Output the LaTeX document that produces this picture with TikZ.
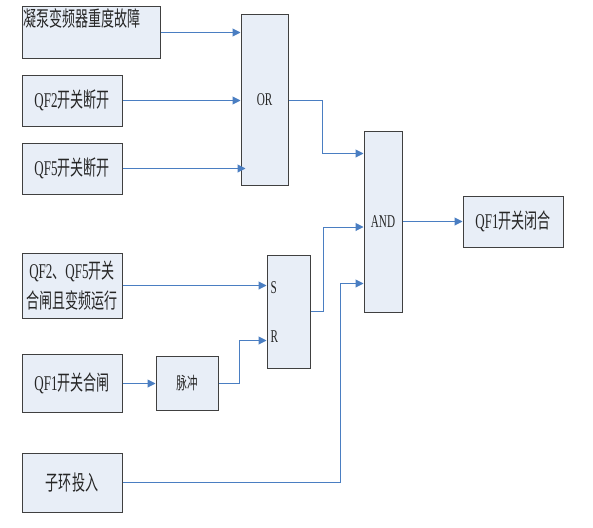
\documentclass[tikz,border=0pt]{standalone}
\usepackage{fontspec}
\setmainfont{Liberation Serif}[FakeStretch=0.62]
\newfontfamily\cjk{Noto Sans CJK SC}[FakeStretch=0.62]
\usetikzlibrary{arrows.meta}

\definecolor{boxfill}{HTML}{E8EEF7}
\definecolor{boxline}{HTML}{404040}
\definecolor{linkblue}{HTML}{4A7EC2}
\definecolor{inkgray}{HTML}{262626}

\tikzset{
   box/.style={
      draw=boxline,
      fill=boxfill,
      line width=1pt,
      inner sep=0pt,
      align=center,
      text=inkgray,
      font=\fontsize{21pt}{30pt}\selectfont
   },
   gate/.style={
      box,
      font=\fontsize{18pt}{20pt}\selectfont
   },
   pinlabel/.style={
      anchor=west,
      inner sep=0pt,
      text=inkgray,
      font=\fontsize{18pt}{20pt}\selectfont
   },
   link/.style={
      draw=linkblue,
      line width=1pt,
      -{Triangle[length=8pt,width=8pt]}
   }
}

\begin{document}
\begin{tikzpicture}[x=1pt, y=-1pt]
   \useasboundingbox (0,0) rectangle (593,527);

   % inputs of the OR gate
   \node[
      box,
      minimum width=138pt,
      minimum height=51pt,
      label={[anchor=north west, inner sep=2pt, text=inkgray, font=\fontsize{21pt}{23pt}\selectfont]north west:{\cjk 凝泵变频器重度故障}}
   ] (fault) at (91,32.5) {};
   \node[box, minimum width=100pt, minimum height=51pt] (qf2) at (72,100.5) {QF2{\cjk 开关断开}};
   \node[box, minimum width=100pt, minimum height=51pt] (qf5) at (72,168.5) {QF5{\cjk 开关断开}};

   % gates
   \node[gate, minimum width=47pt, minimum height=170pt] (or) at (264.5,100) {OR};
   \node[gate, minimum width=38pt, minimum height=181pt] (and) at (383,221.5) {AND};
   \node[gate, minimum width=43pt, minimum height=113pt] (sr) at (288.5,311.5) {};
   \node[pinlabel] (s-pin) at ([xshift=4pt, yshift=-33pt]sr.north west) {S};
   \node[pinlabel] (r-pin) at ([xshift=4pt, yshift=32pt]sr.south west) {R};

   % lower inputs
   \node[box, minimum width=100pt, minimum height=65pt] (run) at (72,285.5) {QF2{\cjk 、}QF5{\cjk 开关}\\{\cjk 合闸且变频运行}};
   \node[box, minimum width=100pt, minimum height=58pt] (close) at (72,383.5) {QF1{\cjk 开关合闸}};
   \node[gate, minimum width=62pt, minimum height=54pt, font=\fontsize{17pt}{19pt}\cjk] (pulse) at (187,383.5) {脉冲};
   \node[box, minimum width=100pt, minimum height=59pt] (sub) at (72,482.5) {\cjk 子环投入};

   % output
   \node[box, minimum width=100pt, minimum height=51pt] (result) at (513,221.5) {QF1{\cjk 开关闭合}};

   % connection points
   \coordinate (and-in1) at ([yshift=-23pt]and.north west);
   \coordinate (and-in2) at ([yshift=-5.5pt]and.west);
   \coordinate (and-in3) at ([yshift=29pt]and.south west);
   \coordinate (sr-r) at ([yshift=28pt]sr.south west);

   \draw[link] (fault.east) -- (fault.east -| or.west);
   \draw[link] (qf2.east) -- (qf2.east -| or.west);
   \draw[link, shorten >=-5pt] (qf5.east) -- (qf5.east -| or.west);

   \draw[link] (or.east) -- ++(34,0) |- (and-in1);
   \draw[link] (sr.east) -- ++(13,0) |- (and-in2);
   \draw[link] (sub.east) -| ([xshift=-23pt]and-in3) -- (and-in3);
   \draw[link] (and.east) -- (result.west);

   \draw[link] (run.east) -- (run.east -| sr.west);
   \draw[link] (close.east) -- (pulse.west);
   \draw[link] (pulse.east) -- ++(21,0) |- (sr-r);
\end{tikzpicture}
\end{document}
